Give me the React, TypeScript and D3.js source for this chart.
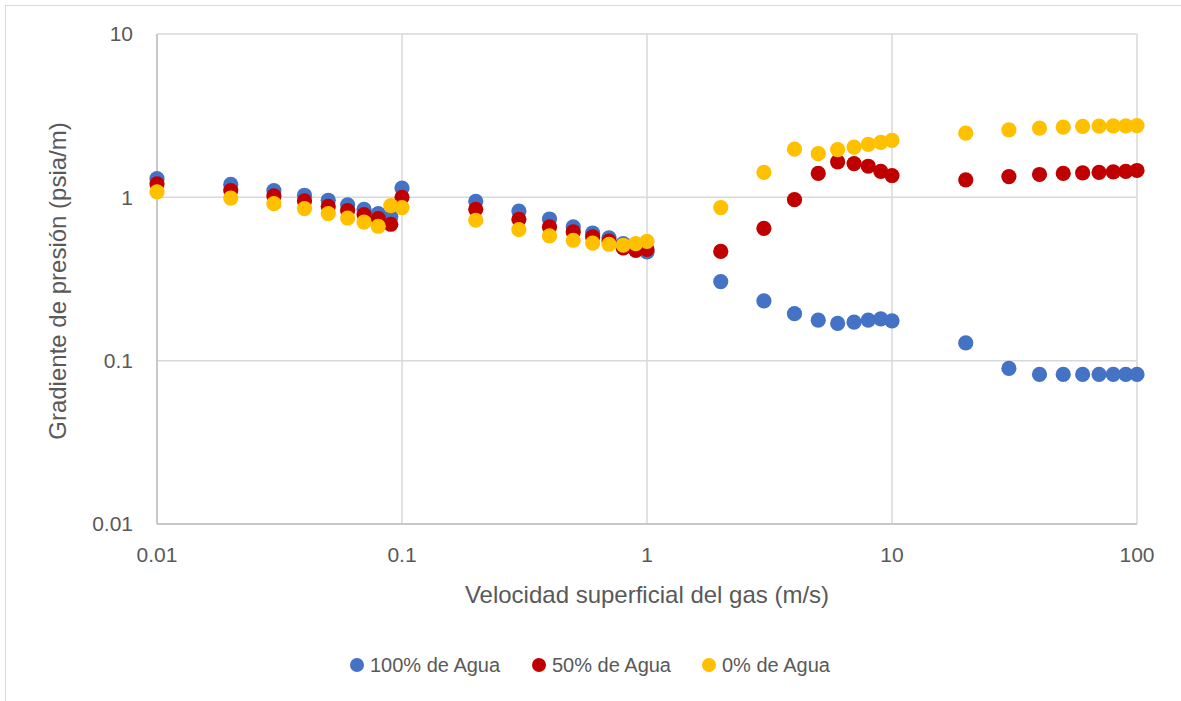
import React from "react";
import * as d3 from "d3";

const xValues = [
  0.01, 0.02, 0.03, 0.04, 0.05, 0.06, 0.07, 0.08, 0.09, 0.1,
  0.2, 0.3, 0.4, 0.5, 0.6, 0.7, 0.8, 0.9, 1,
  2, 3, 4, 5, 6, 7, 8, 9, 10,
  20, 30, 40, 50, 60, 70, 80, 90, 100,
];

const agua100 = [
  1.3, 1.2, 1.1, 1.03, 0.96, 0.9, 0.845, 0.795, 0.76, 1.14,
  0.945, 0.824, 0.737, 0.659, 0.605, 0.564, 0.52, 0.49, 0.463,
  0.305, 0.232, 0.194, 0.177, 0.169, 0.172, 0.177, 0.18, 0.175,
  0.1285, 0.0896, 0.0824, 0.0824, 0.0824, 0.0824, 0.0824, 0.0824, 0.0824,
];

const agua50 = [
  1.21, 1.1, 1.02, 0.95, 0.88, 0.83, 0.784, 0.74, 0.684, 1.0,
  0.845, 0.734, 0.659, 0.614, 0.572, 0.54, 0.49, 0.474, 0.48,
  0.467, 0.646, 0.968, 1.4, 1.65, 1.61, 1.55, 1.44, 1.36,
  1.28, 1.34, 1.38, 1.4, 1.41, 1.42, 1.43, 1.44, 1.46,
];

const agua0 = [
  1.08, 0.99, 0.915, 0.853, 0.795, 0.747, 0.706, 0.665, 0.89, 0.865,
  0.724, 0.634, 0.58, 0.546, 0.525, 0.516, 0.509, 0.521, 0.538,
  0.865, 1.42, 1.975, 1.85, 1.96, 2.03, 2.11, 2.17, 2.23,
  2.47, 2.59, 2.65, 2.69, 2.72, 2.73, 2.74, 2.74, 2.75,
];

const seriesNames = ["100% de Agua", "50% de Agua", "0% de Agua"];
const seriesColors = ["#4472C4", "#C00000", "#FFC000"];
const seriesData = [agua100, agua50, agua0];

const xTicks = [0.01, 0.1, 1, 10, 100];
const xTickLabels = ["0.01", "0.1", "1", "10", "100"];
const yTicks = [0.01, 0.1, 1, 10];
const yTickLabels = ["0.01", "0.1", "1", "10"];

const xTitle = "Velocidad superficial del gas (m/s)";
const yTitle = "Gradiente de presión (psia/m)";

const W = 1181;
const H = 701;
const plot = { left: 157, right: 1137, top: 34, bottom: 524 };
const FONT = "'Liberation Sans', Arial, sans-serif";
const TEXT = "#595959";

export default function App() {
  const x = d3.scaleLog().domain([0.01, 100]).range([plot.left, plot.right]);
  const y = d3.scaleLog().domain([0.01, 10]).range([plot.bottom, plot.top]);

  const legendX = [357, 539, 709];
  const legendY = 665;

  return (
    <svg
      width={W}
      height={H}
      style={{ position: "absolute", left: 0, top: 0, background: "#fff" }}
      fontFamily={FONT}
    >
      <rect x={5.5} y={5.5} width={W + 20} height={H + 20} fill="#fff" stroke="#d9d9d9" strokeWidth={1} />

      {/* gridlines */}
      {yTicks.map((t) => (
        <line key={"gy" + t} x1={plot.left} x2={plot.right} y1={y(t)} y2={y(t)} stroke="#d9d9d9" strokeWidth={1.5} />
      ))}
      {xTicks.map((t) => (
        <line key={"gx" + t} x1={x(t)} x2={x(t)} y1={plot.top} y2={plot.bottom} stroke="#d9d9d9" strokeWidth={1.5} />
      ))}
      {/* axes */}
      <line x1={plot.left} x2={plot.left} y1={plot.top} y2={plot.bottom} stroke="#bfbfbf" strokeWidth={1.5} />
      <line x1={plot.left} x2={plot.right} y1={plot.bottom} y2={plot.bottom} stroke="#bfbfbf" strokeWidth={1.5} />

      {/* tick labels */}
      {yTicks.map((t, i) => (
        <text key={"ly" + t} x={133} y={y(t)} dy="0.35em" textAnchor="end" fontSize={21} fill={TEXT}>
          {yTickLabels[i]}
        </text>
      ))}
      {xTicks.map((t, i) => (
        <text key={"lx" + t} x={x(t)} y={562} textAnchor="middle" fontSize={21} fill={TEXT}>
          {xTickLabels[i]}
        </text>
      ))}

      {/* axis titles */}
      <text x={(plot.left + plot.right) / 2} y={603} textAnchor="middle" fontSize={24} fill={TEXT}>
        {xTitle}
      </text>
      <text
        transform={`translate(66, ${(plot.top + plot.bottom) / 2 + 2}) rotate(-90)`}
        textAnchor="middle"
        fontSize={24}
        fill={TEXT}
      >
        {yTitle}
      </text>

      {/* points */}
      {seriesData.map((vals, s) => (
        <g key={"s" + s}>
          {vals.map((v, i) => (
            <circle key={i} cx={x(xValues[i])} cy={y(v)} r={7.6} fill={seriesColors[s]} />
          ))}
        </g>
      ))}

      {/* legend */}
      {seriesNames.map((n, i) => (
        <g key={"lg" + i}>
          <circle cx={legendX[i]} cy={legendY} r={7} fill={seriesColors[i]} />
          <text x={legendX[i] + 13} y={legendY} dy="0.35em" fontSize={20} fill={TEXT}>
            {n}
          </text>
        </g>
      ))}
    </svg>
  );
}
